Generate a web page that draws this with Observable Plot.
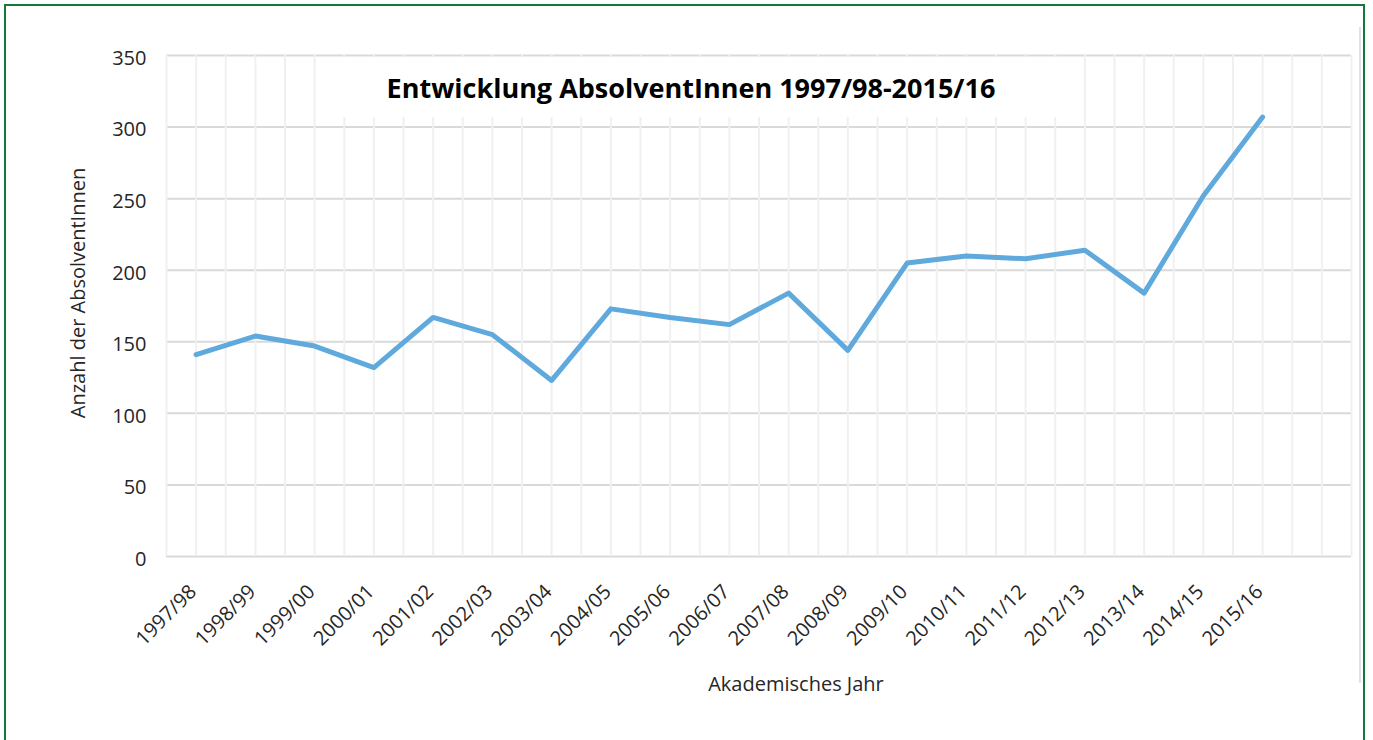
<!DOCTYPE html>
<html>
<head>
<meta charset="utf-8">
<script src="https://cdn.jsdelivr.net/npm/d3@7"></script>
<script src="https://cdn.jsdelivr.net/npm/@observablehq/plot@0.6"></script>
<style>
  body { margin: 0; background: #fff; font-family: "Open Sans", sans-serif; }
  #wrap { position: relative; width: 1373px; height: 740px; overflow: hidden; background: #fff; }
  #chart { position: absolute; left: 0; top: 0; }
  #frame { position: absolute; left: 4px; top: 4px; width: 1357px; height: 780px; border: 2px solid #137a3e; pointer-events: none; }
  #shadow { position: absolute; left: 1359px; top: 27px; width: 2px; height: 656px; background: #e2e2e2; }
  #title { position: absolute; left: 317px; top: 57px; width: 766px; height: 60px; background: #fff;
           display: flex; align-items: center; justify-content: center; padding-right: 18px; box-sizing: border-box;
           font-weight: 700; font-size: 27px; color: #000; white-space: nowrap; }
  #ylabel { position: absolute; left: 77px; top: 293px; transform: translate(-50%, -50%) rotate(-90deg);
            font-size: 20px; color: #262626; white-space: nowrap; }
  #xlabel { position: absolute; left: 796px; top: 683px; transform: translate(-50%, -50%);
            font-size: 20px; color: #262626; white-space: nowrap; }
</style>
</head>
<body>
<div id="wrap">
  <div id="chart"></div>
  <div id="shadow"></div>
  <div id="title"></div>
  <div id="ylabel"></div>
  <div id="xlabel"></div>
  <div id="frame"></div>
</div>
<script>
const titleText = "Entwicklung AbsolventInnen 1997/98-2015/16";
const yLabel = "Anzahl der AbsolventInnen";
const xLabel = "Akademisches Jahr";
const years = ["1997/98","1998/99","1999/00","2000/01","2001/02","2002/03","2003/04","2004/05","2005/06","2006/07",
               "2007/08","2008/09","2009/10","2010/11","2011/12","2012/13","2013/14","2014/15","2015/16"];
const graduates = [141,154,147,132,167,155,123,173,167,162,184,144,205,210,208,214,184,252,307];
const yTicks = [0,50,100,150,200,250,300,350];

document.getElementById("title").textContent = titleText;
document.getElementById("ylabel").textContent = yLabel;
document.getElementById("xlabel").textContent = xLabel;

// one empty slot follows the last year on the category axis
const slots = years.length + 1;
const data = years.map((year, i) => ({i, year, value: graduates[i]}));
const idx = years.map((d, i) => i);
const gridX = d3.range(0, slots * 2 + 1).map(k => k / 2 - 0.5);

const chart = Plot.plot({
  width: 1373,
  height: 740,
  marginLeft: 166,
  marginRight: 22,
  marginTop: 55,
  marginBottom: 184,
  x: {type: "linear", domain: [-0.5, slots - 0.5]},
  y: {domain: [0, 350]},
  style: {fontFamily: "Open Sans, sans-serif", fontSize: "20px", color: "#262626", background: "transparent"},
  marks: [
    Plot.ruleY(yTicks, {stroke: "#d9d9d9", strokeWidth: 2}),
    Plot.ruleX(gridX, {stroke: "#f0f0f0", strokeWidth: 2}),
    Plot.axisY({ticks: yTicks, tickSize: 0, tickPadding: 20, dy: 3, label: null}),
    Plot.axisX({ticks: idx, tickFormat: i => years[i], tickRotate: -45, tickSize: 0, tickPadding: 32, dx: -3, label: null}),
    Plot.line(data, {x: "i", y: "value", stroke: "#5fa9dd", strokeWidth: 5, strokeLinejoin: "round", strokeLinecap: "round"})
  ]
});
document.getElementById("chart").appendChild(chart);
</script>
</body>
</html>
